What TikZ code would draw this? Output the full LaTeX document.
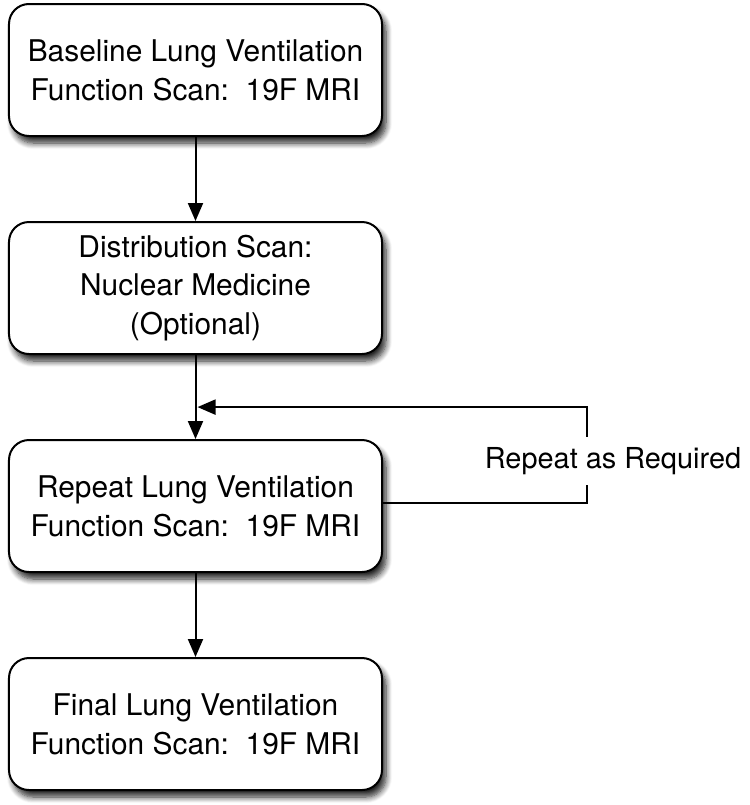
\documentclass[tikz,border=0pt]{standalone}
\usepackage{fontspec}
\setmainfont{TeX Gyre Heros}
\usepackage{tikz}
\usetikzlibrary{arrows.meta}
\usetikzlibrary{calc,positioning,shadows.blur}
\tikzset{scanbox/.style={draw=black, line width=1bp, fill=white, rounded corners=10bp,
    minimum width=186.5bp, minimum height=66bp, align=center,
    font=\fontsize{15}{19.5}\selectfont,
    blur shadow={shadow xshift=2bp, shadow yshift=-3.5bp, shadow opacity=85, shadow blur steps=8, shadow blur radius=3bp}},
  flowline/.style={black, line width=1bp, ->, >={Triangle[length=9bp,width=7.5bp]}}}

\begin{document}
\begin{tikzpicture} [x=0.5bp, y=-0.5bp, node distance=42bp]
\useasboundingbox (0,0) rectangle (750,805);
\node[scanbox] (baseline) at (195.5,70) {Baseline Lung Ventilation\\Function Scan:\ \ 19F MRI};
\node[scanbox, below=of baseline] (distrib) {Distribution Scan:\\Nuclear Medicine\\(Optional)};
\node[scanbox, below=of distrib] (repeatscan) {Repeat Lung Ventilation\\Function Scan:\ \ 19F MRI};
\node[scanbox, below=of repeatscan] (finalscan) {Final Lung Ventilation\\Function Scan:\ \ 19F MRI};
\draw[flowline] (baseline) -- (distrib);
\draw[flowline] (distrib) -- (repeatscan);
\draw[flowline] (repeatscan) -- (finalscan);
% loop back
\coordinate (loopend) at ($(distrib.south)!0.62!(repeatscan.north)$);
\coordinate (loopright) at (587,503);
\draw[flowline] (repeatscan.east |- loopright) -- (loopright) |- ([xshift=1bp]loopend);
\node[fill=white, inner xsep=2bp, inner ysep=5bp, font=\fontsize{14.5}{19.5}\selectfont] (repeatlbl) at (613,461) {Repeat as Required};
\end{tikzpicture}
\end{document}
